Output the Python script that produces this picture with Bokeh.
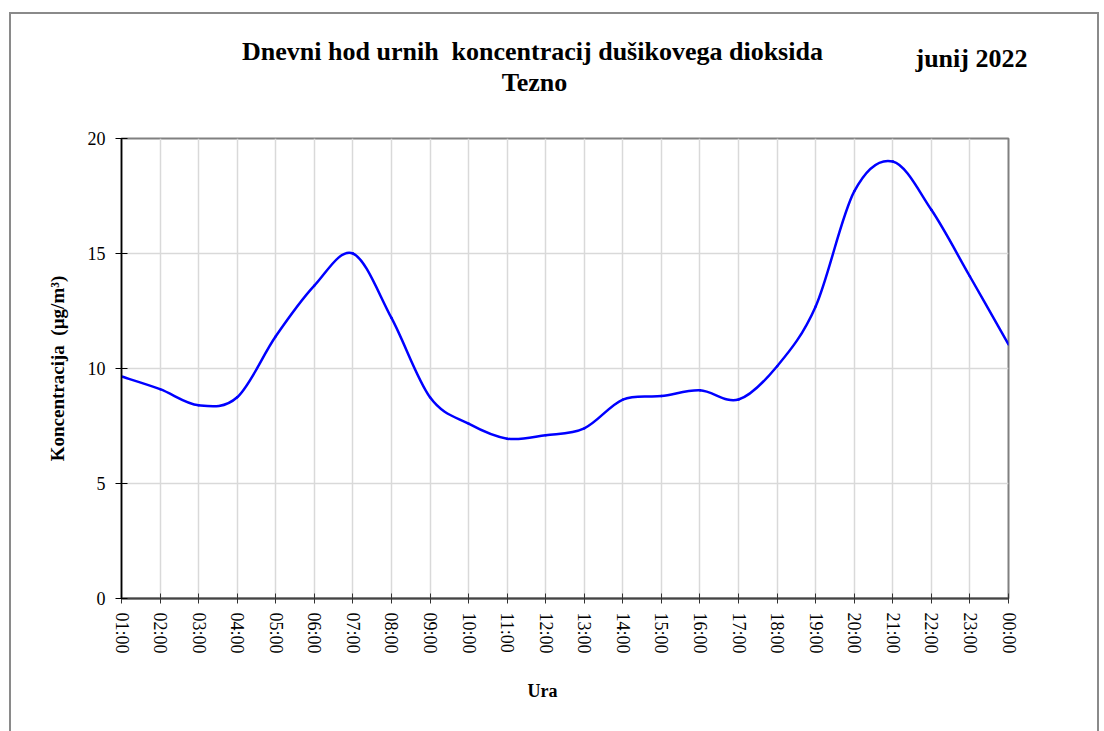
from bokeh.plotting import figure
from bokeh.models import Range1d, FixedTicker
from bokeh.layouts import column
from bokeh.embed import file_html
from bokeh.resources import INLINE
from bokeh.core.properties import value

hours = ["01:00", "02:00", "03:00", "04:00", "05:00", "06:00", "07:00", "08:00",
         "09:00", "10:00", "11:00", "12:00", "13:00", "14:00", "15:00", "16:00",
         "17:00", "18:00", "19:00", "20:00", "21:00", "22:00", "23:00", "00:00"]
no2 = [9.65, 9.1, 8.4, 8.75, 11.4, 13.6, 15.0, 12.2, 8.75, 7.6, 6.95, 7.1,
       7.4, 8.65, 8.8, 9.05, 8.65, 10.1, 12.7, 17.7, 19.0, 16.9, 14.0, 11.05]
y_ticks = [0, 5, 10, 15, 20]

title1 = "Dnevni hod urnih\u00a0\u00a0koncentracij dušikovega dioksida"
title2 = "Tezno"
title_date = "junij 2022"
x_label = "Ura"
y_label = "Koncentracija\u00a0\u00a0(µg/m³)"

FONT = "Liberation Serif"
W = 1086
HEAD_H = 110
MAIN_H = 609

xs = list(range(len(hours)))

# ---- header with the titles (coordinates in page pixels) ----
head = figure(width=W, height=HEAD_H, output_backend="svg", toolbar_location=None,
              x_range=Range1d(11, 11 + W), y_range=Range1d(14 + HEAD_H, 14),
              min_border=0, min_border_left=0, min_border_right=0,
              min_border_top=0, min_border_bottom=0)
if "frame_align" in head.properties():
    head.frame_align = False
head.axis.visible = False
head.grid.visible = False
head.outline_line_color = None
head.background_fill_color = "white"
head.border_fill_color = "white"
head.text(x=[532, 534], y=[50.5, 82], text=[title1, title2],
          text_align=value("center"), text_baseline=value("alphabetic"),
          text_font=value(FONT), text_font_style=value("bold"),
          text_font_size=value("26px"), text_color="black")
head.text(x=[915], y=[57.7], text=[title_date],
          text_align=value("left"), text_baseline=value("alphabetic"),
          text_font=value(FONT), text_font_style=value("bold"),
          text_font_size=value("26px"), text_color="black")

# ---- main chart ----
p = figure(width=W, height=MAIN_H, output_backend="svg", toolbar_location=None,
           x_range=Range1d(0, len(hours) - 1), y_range=Range1d(0, 20),
           min_border_left=110, min_border_right=89, min_border_top=14,
           min_border_bottom=135)

p.background_fill_color = "white"
p.border_fill_color = "white"
p.outline_line_color = "#808080"
p.outline_line_width = 2

p.xgrid.ticker = FixedTicker(ticks=xs)
p.ygrid.ticker = FixedTicker(ticks=y_ticks)
for g in (p.xgrid, p.ygrid):
    g.grid_line_color = "#d9d9d9"
    g.grid_line_width = 1.5

xa = p.xaxis[0]
xa.ticker = FixedTicker(ticks=xs)
xa.major_label_overrides = {i: h for i, h in enumerate(hours)}
xa.major_label_orientation = "vertical"
xa.major_label_text_font = FONT
xa.major_label_text_font_size = "18px"
xa.major_label_text_color = "black"
xa.major_label_standoff = 9
xa.major_tick_in = 5
xa.major_tick_out = 5
xa.minor_tick_line_color = None
xa.major_tick_line_color = "#333333"
xa.axis_line_color = "#444444"
xa.axis_line_width = 2
xa.axis_label = x_label + "\u00a0" * 10
xa.axis_label_text_font = FONT
xa.axis_label_text_font_style = "bold"
xa.axis_label_text_font_size = "18px"
xa.axis_label_text_color = "black"
xa.axis_label_standoff = 24

ya = p.yaxis[0]
ya.ticker = FixedTicker(ticks=y_ticks)
ya.major_label_text_font = FONT
ya.major_label_text_font_size = "18px"
ya.major_label_text_color = "black"
ya.major_label_standoff = 10
ya.major_tick_in = 6
ya.major_tick_out = 6
ya.minor_tick_line_color = None
ya.major_tick_line_color = "black"
ya.axis_line_color = "black"
ya.axis_line_width = 1.5
ya.axis_label = y_label
ya.axis_label_text_font = FONT
ya.axis_label_text_font_style = "bold"
ya.axis_label_text_font_size = "19px"
ya.axis_label_text_color = "black"
ya.axis_label_standoff = 17

# smoothed line (Bezier segments with Catmull-Rom style control points)
n = len(no2)
x0, y0, x1, y1, cx0, cy0, cx1, cy1 = [], [], [], [], [], [], [], []
for i in range(n - 1):
    ip = max(i - 1, 0)
    inn = min(i + 2, n - 1)
    x0.append(xs[i]); y0.append(no2[i])
    x1.append(xs[i + 1]); y1.append(no2[i + 1])
    cx0.append(xs[i] + (xs[i + 1] - xs[ip]) / 6.0)
    cy0.append(no2[i] + (no2[i + 1] - no2[ip]) / 6.0)
    cx1.append(xs[i + 1] - (xs[inn] - xs[i]) / 6.0)
    cy1.append(no2[i + 1] - (no2[inn] - no2[i]) / 6.0)
p.bezier(x0=x0, y0=y0, x1=x1, y1=y1, cx0=cx0, cy0=cy0, cx1=cx1, cy1=cy1,
         line_color="#0000ff", line_width=2.5, line_cap="round")

layout = column(head, p, spacing=0)
layout.margin = (12, 0, 0, 9)
layout.styles = {"border-left": "2px solid #8a8a8a", "border-top": "2px solid #8a8a8a",
                 "border-right": "2px solid #8a8a8a"}

open("out.html", "w").write(file_html(layout, INLINE))
